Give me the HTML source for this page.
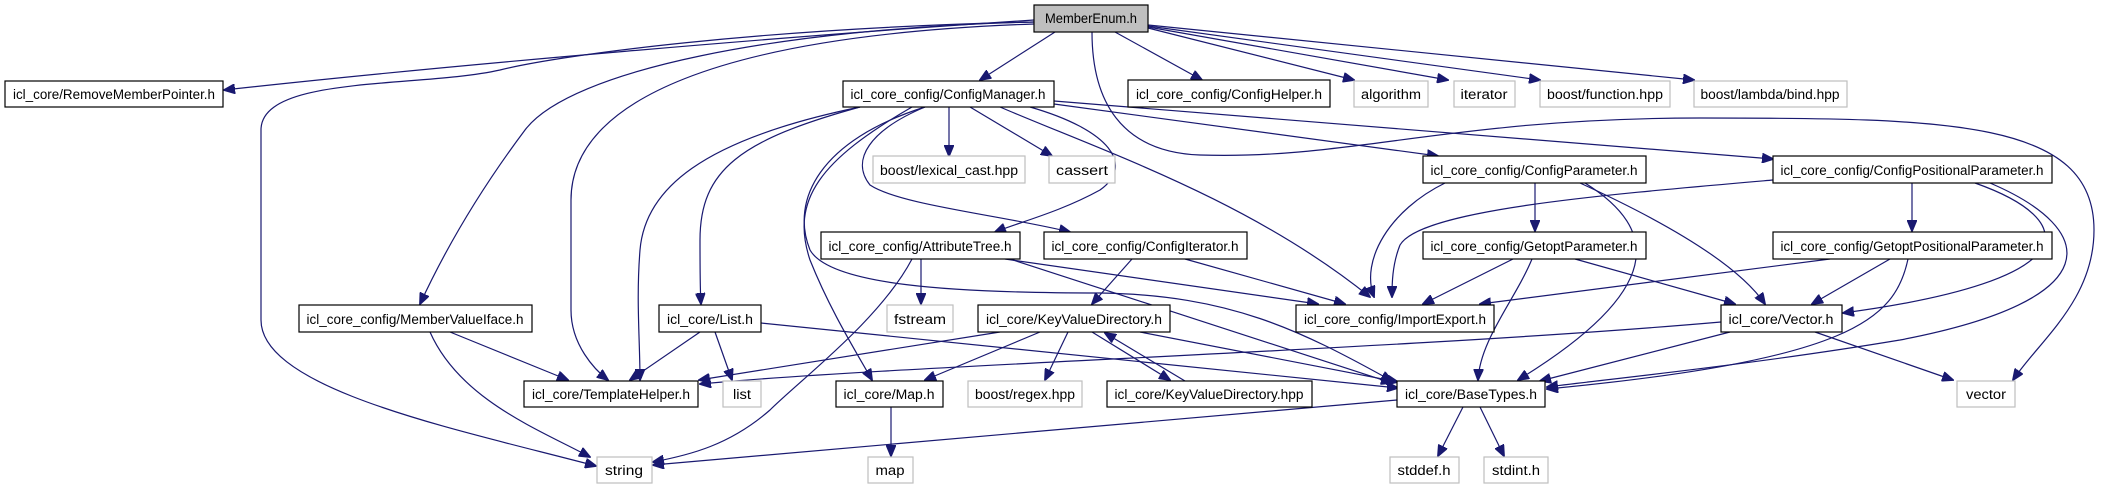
<!DOCTYPE html>
<html><head><meta charset="utf-8"><style>
html,body{margin:0;padding:0;background:#fff;}
svg{display:block;}
text{font-family:"Liberation Sans",sans-serif;font-size:13.5px;fill:#000;}
.b{fill:#fff;stroke:#000;stroke-width:1.2;}
.g{fill:#fff;stroke:#bfbfbf;stroke-width:1.2;}
.r{fill:#bfbfbf;stroke:#000;stroke-width:1.2;}
path{fill:none;stroke:#191970;stroke-width:1.2;}
</style></head><body>
<svg width="2117" height="485" viewBox="0 0 2117 485" xmlns="http://www.w3.org/2000/svg">
<defs><marker id="a" markerUnits="userSpaceOnUse" markerWidth="12" markerHeight="10" refX="11" refY="5" orient="auto"><polygon points="0,0 12,5 0,10" fill="#191970" stroke="#191970"/></marker></defs>
<g marker-end="url(#a)">
<path d="M1034,20 C800,35 450,65 224,90"/>
<path d="M1034,22 C760,28 560,55 500,70 C420,88 261,75 261,130 L261,320 C261,390 460,430 596,466"/>
<path d="M1034,24 C720,35 571,100 571,200 L571,310 C571,345 595,370 608,380"/>
<path d="M1034,22 C780,28 570,70 525,130 C480,190 445,250 420,304"/>
<path d="M1055,32 L980,80"/>
<path d="M1115,32 L1202,80"/>
<path d="M1148,28 L1354,80"/>
<path d="M1148,27 L1448,80"/>
<path d="M1148,26 L1540,80"/>
<path d="M1148,25 L1694,80"/>
<path d="M1092,32 C1092,100 1120,152 1200,155 C1350,160 1450,118 1700,118 C1950,118 2094,120 2094,230 C2094,300 2040,340 2013,380"/>
<path d="M949,107 L949,156"/>
<path d="M970,107 L1052,156"/>
<path d="M1054,104 L1438,156"/>
<path d="M1054,101 L1773,159"/>
<path d="M1030,107 C1110,130 1135,165 1100,190 C1060,212 1020,222 995,232"/>
<path d="M925,107 C870,130 850,160 870,185 C900,205 1000,215 1070,232"/>
<path d="M1000,107 C1100,150 1250,200 1370,297"/>
<path d="M912,107 C820,160 790,200 810,260 C830,310 855,350 872,380"/>
<path d="M860,107 C700,140 645,190 640,250 C636,300 640,340 640,380"/>
<path d="M860,107 C740,140 700,170 700,240 C700,270 700,290 701,304"/>
<path d="M925,107 C820,140 790,200 810,250 C830,285 950,293 1100,293 C1230,295 1300,330 1392,381"/>
<path d="M921,259 L921,304"/>
<path d="M912,259 C880,320 800,380 770,410 C730,445 690,455 653,462"/>
<path d="M1005,259 L1318,304"/>
<path d="M1010,259 L1392,383"/>
<path d="M1132,259 L1092,304"/>
<path d="M1185,259 L1345,304"/>
<path d="M1535,183 L1535,231"/>
<path d="M1445,183 C1390,210 1360,260 1374,297"/>
<path d="M1580,183 C1650,215 1735,260 1765,304"/>
<path d="M1585,183 C1660,230 1665,290 1518,380"/>
<path d="M1912,183 L1912,231"/>
<path d="M1773,180 C1600,195 1420,210 1400,245 C1392,265 1392,285 1392,297"/>
<path d="M1975,183 C2080,220 2090,280 1843,313"/>
<path d="M1990,183 C2100,230 2110,300 1900,340 C1750,365 1600,380 1547,387"/>
<path d="M1513,259 L1423,304"/>
<path d="M1575,259 L1735,304"/>
<path d="M1532,259 C1515,300 1480,340 1478,380"/>
<path d="M1830,259 L1480,304"/>
<path d="M1890,259 L1812,304"/>
<path d="M1908,259 C1895,320 1850,360 1547,389"/>
<path d="M1000,332 L699,380"/>
<path d="M1040,332 L925,380"/>
<path d="M1068,332 L1045,380"/>
<path d="M1092,332 L1170,380"/>
<path d="M1185,381 L1105,333"/>
<path d="M1140,332 L1398,382"/>
<path d="M1721,322 C1400,350 900,365 700,384"/>
<path d="M1730,332 L1540,381"/>
<path d="M1815,332 L1953,380"/>
<path d="M700,332 L630,380"/>
<path d="M715,332 L732,380"/>
<path d="M761,323 L1398,388"/>
<path d="M450,332 L568,380"/>
<path d="M430,332 C460,400 540,430 590,457"/>
<path d="M891,407 L891,456"/>
<path d="M1397,400 L653,465"/>
<path d="M1463,407 L1438,456"/>
<path d="M1480,407 L1504,456"/>
</g>
<rect class="r" x="1034" y="5" width="114" height="27"/><text x="1091" y="23" text-anchor="middle" textLength="92" lengthAdjust="spacingAndGlyphs">MemberEnum.h</text>
<rect class="b" x="5" y="81" width="218" height="26"/><text x="114" y="99" text-anchor="middle" textLength="202" lengthAdjust="spacingAndGlyphs">icl_core/RemoveMemberPointer.h</text>
<rect class="b" x="843" y="81" width="211" height="26"/><text x="948" y="99" text-anchor="middle" textLength="195" lengthAdjust="spacingAndGlyphs">icl_core_config/ConfigManager.h</text>
<rect class="b" x="1128" y="80" width="202" height="27"/><text x="1229" y="99" text-anchor="middle" textLength="186" lengthAdjust="spacingAndGlyphs">icl_core_config/ConfigHelper.h</text>
<rect class="g" x="1354" y="81" width="74" height="26"/><text x="1391" y="99" text-anchor="middle" textLength="60" lengthAdjust="spacingAndGlyphs">algorithm</text>
<rect class="g" x="1454" y="81" width="61" height="26"/><text x="1484" y="99" text-anchor="middle" textLength="47" lengthAdjust="spacingAndGlyphs">iterator</text>
<rect class="g" x="1540" y="81" width="130" height="26"/><text x="1605" y="99" text-anchor="middle" textLength="116" lengthAdjust="spacingAndGlyphs">boost/function.hpp</text>
<rect class="g" x="1694" y="81" width="153" height="26"/><text x="1770" y="99" text-anchor="middle" textLength="139" lengthAdjust="spacingAndGlyphs">boost/lambda/bind.hpp</text>
<rect class="g" x="873" y="156" width="152" height="27"/><text x="949" y="175" text-anchor="middle" textLength="138" lengthAdjust="spacingAndGlyphs">boost/lexical_cast.hpp</text>
<rect class="g" x="1049" y="156" width="66" height="27"/><text x="1082" y="175" text-anchor="middle" textLength="52" lengthAdjust="spacingAndGlyphs">cassert</text>
<rect class="b" x="1423" y="156" width="223" height="27"/><text x="1534" y="175" text-anchor="middle" textLength="207" lengthAdjust="spacingAndGlyphs">icl_core_config/ConfigParameter.h</text>
<rect class="b" x="1773" y="156" width="279" height="27"/><text x="1912" y="175" text-anchor="middle" textLength="263" lengthAdjust="spacingAndGlyphs">icl_core_config/ConfigPositionalParameter.h</text>
<rect class="b" x="821" y="232" width="199" height="27"/><text x="920" y="251" text-anchor="middle" textLength="183" lengthAdjust="spacingAndGlyphs">icl_core_config/AttributeTree.h</text>
<rect class="b" x="1044" y="232" width="203" height="27"/><text x="1145" y="251" text-anchor="middle" textLength="187" lengthAdjust="spacingAndGlyphs">icl_core_config/ConfigIterator.h</text>
<rect class="b" x="1423" y="232" width="223" height="27"/><text x="1534" y="251" text-anchor="middle" textLength="207" lengthAdjust="spacingAndGlyphs">icl_core_config/GetoptParameter.h</text>
<rect class="b" x="1773" y="232" width="279" height="27"/><text x="1912" y="251" text-anchor="middle" textLength="263" lengthAdjust="spacingAndGlyphs">icl_core_config/GetoptPositionalParameter.h</text>
<rect class="b" x="299" y="305" width="233" height="27"/><text x="415" y="324" text-anchor="middle" textLength="217" lengthAdjust="spacingAndGlyphs">icl_core_config/MemberValueIface.h</text>
<rect class="b" x="659" y="305" width="102" height="27"/><text x="710" y="324" text-anchor="middle" textLength="86" lengthAdjust="spacingAndGlyphs">icl_core/List.h</text>
<rect class="g" x="887" y="305" width="66" height="27"/><text x="920" y="324" text-anchor="middle" textLength="52" lengthAdjust="spacingAndGlyphs">fstream</text>
<rect class="b" x="978" y="305" width="192" height="27"/><text x="1074" y="324" text-anchor="middle" textLength="176" lengthAdjust="spacingAndGlyphs">icl_core/KeyValueDirectory.h</text>
<rect class="b" x="1296" y="305" width="198" height="27"/><text x="1395" y="324" text-anchor="middle" textLength="182" lengthAdjust="spacingAndGlyphs">icl_core_config/ImportExport.h</text>
<rect class="b" x="1721" y="305" width="121" height="27"/><text x="1781" y="324" text-anchor="middle" textLength="105" lengthAdjust="spacingAndGlyphs">icl_core/Vector.h</text>
<rect class="b" x="524" y="381" width="174" height="26"/><text x="611" y="399" text-anchor="middle" textLength="158" lengthAdjust="spacingAndGlyphs">icl_core/TemplateHelper.h</text>
<rect class="g" x="723" y="381" width="38" height="26"/><text x="742" y="399" text-anchor="middle" textLength="18" lengthAdjust="spacingAndGlyphs">list</text>
<rect class="b" x="836" y="381" width="107" height="26"/><text x="889" y="399" text-anchor="middle" textLength="91" lengthAdjust="spacingAndGlyphs">icl_core/Map.h</text>
<rect class="g" x="968" y="381" width="114" height="26"/><text x="1025" y="399" text-anchor="middle" textLength="100" lengthAdjust="spacingAndGlyphs">boost/regex.hpp</text>
<rect class="b" x="1107" y="381" width="205" height="26"/><text x="1209" y="399" text-anchor="middle" textLength="189" lengthAdjust="spacingAndGlyphs">icl_core/KeyValueDirectory.hpp</text>
<rect class="b" x="1397" y="381" width="148" height="26"/><text x="1471" y="399" text-anchor="middle" textLength="132" lengthAdjust="spacingAndGlyphs">icl_core/BaseTypes.h</text>
<rect class="g" x="1957" y="381" width="58" height="26"/><text x="1986" y="399" text-anchor="middle" textLength="40" lengthAdjust="spacingAndGlyphs">vector</text>
<rect class="g" x="597" y="457" width="55" height="26"/><text x="624" y="475" text-anchor="middle" textLength="38" lengthAdjust="spacingAndGlyphs">string</text>
<rect class="g" x="868" y="457" width="45" height="26"/><text x="890" y="475" text-anchor="middle" textLength="29" lengthAdjust="spacingAndGlyphs">map</text>
<rect class="g" x="1390" y="457" width="69" height="26"/><text x="1424" y="475" text-anchor="middle" textLength="53" lengthAdjust="spacingAndGlyphs">stddef.h</text>
<rect class="g" x="1484" y="457" width="64" height="26"/><text x="1516" y="475" text-anchor="middle" textLength="48" lengthAdjust="spacingAndGlyphs">stdint.h</text>
</svg>
</body></html>
